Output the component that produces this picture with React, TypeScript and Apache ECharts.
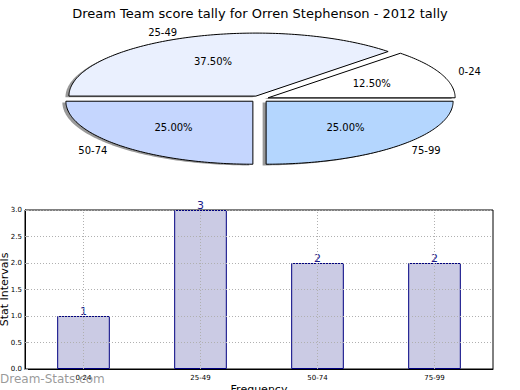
import React, { useEffect, useRef } from "react";
import * as echarts from "echarts";

const titleText = "Dream Team score tally for Orren Stephenson - 2012 tally";
const categories = ["0-24", "25-49", "50-74", "75-99"];
const counts = [1, 3, 2, 2];
const pieColors = ["#ffffff", "#eaf0fe", "#c5d6fe", "#b4d6fe"];
const yTicks = [0, 0.5, 1, 1.5, 2, 2.5, 3];

const FONT = "DejaVu Sans";

// pie layout (ellipse)
const PCX = 259.5;
const PCY = 99;
const PRX = 187;
const PRY = 63;
const EXPLODE = 0.05;

function sliceGeom(i: number) {
  const total = counts.reduce((a, b) => a + b, 0);
  let before = 0;
  for (let k = 0; k < i; k++) before += counts[k];
  const a0 = (before / total) * 360;
  const a1 = ((before + counts[i]) / total) * 360;
  const mid = ((a0 + a1) / 2) * Math.PI / 180;
  const ex = EXPLODE * PRX * Math.cos(mid);
  const ey = -EXPLODE * PRY * Math.sin(mid);
  const pts: number[][] = [[PCX + ex, PCY + ey]];
  const steps = Math.max(8, Math.ceil(a1 - a0));
  for (let s = 0; s <= steps; s++) {
    const a = (a0 + ((a1 - a0) * s) / steps) * Math.PI / 180;
    pts.push([PCX + ex + PRX * Math.cos(a), PCY + ey - PRY * Math.sin(a)]);
  }
  return { pts, mid, ex, ey, pct: (counts[i] / total) * 100 };
}

export default function App() {
  const ref = useRef<HTMLDivElement>(null);
  useEffect(() => {
    if (!ref.current) return;
    const chart = echarts.init(ref.current, undefined, { renderer: "svg" });
    const option: any = {
      animation: false,
      backgroundColor: "#ffffff",
      textStyle: { fontFamily: FONT },
      title: {
        text: titleText,
        left: "center",
        top: 2,
        textStyle: { fontFamily: FONT, fontSize: 13, fontWeight: "normal", color: "#000" },
      },
      grid: {
        left: 25,
        right: 27,
        top: 210,
        bottom: 21,
        containLabel: false,
        outerBoundsMode: "none",
        show: true,
        borderColor: "#000",
        borderWidth: 1,
        backgroundColor: "transparent",
      },
      xAxis: {
        type: "category",
        data: categories,
        z: 4,
        axisLine: { lineStyle: { color: "#000", width: 1 } },
        axisTick: { show: false },
        axisLabel: { fontSize: 7, color: "#000", margin: 5, fontFamily: FONT },
        splitLine: { show: false },
        name: "Frequency",
        nameLocation: "middle",
        nameGap: 15,
        nameMoveOverlap: false,
        nameTextStyle: { fontSize: 11, color: "#000", fontFamily: FONT },
      },
      yAxis: {
        type: "value",
        min: 0,
        max: 3,
        interval: 0.5,
        z: 4,
        axisLine: { show: true, lineStyle: { color: "#000", width: 1 } },
        axisTick: { show: true, inside: true, length: 3, lineStyle: { color: "#aaa" } },
        axisLabel: {
          fontSize: 7,
          color: "#000",
          margin: 3,
          fontFamily: FONT,
          formatter: (v: number) => (yTicks.indexOf(v) >= 0 ? v.toFixed(1) : ""),
        },
        splitLine: { show: true, lineStyle: { type: [1, 2], color: "#b0b0b0", width: 1 } },
        name: "Stat Intervals",
        nameLocation: "middle",
        nameGap: 15,
        nameMoveOverlap: false,
        nameTextStyle: { fontSize: 11, color: "#000", fontFamily: FONT },
      },
      graphic: [
        {
          type: "text",
          left: 0,
          top: 373,
          z: 100,
          style: {
            text: "Dream-Stats.com",
            fontSize: 12,
            fontFamily: FONT,
            fill: "rgba(120,120,120,0.75)",
          },
        },
      ],
      series: [
        {
          type: "bar",
          data: counts,
          barWidth: "45%",
          z: 2,
          itemStyle: { color: "#cbcbe4", borderColor: "#000080", borderWidth: 1 },
          label: {
            show: true,
            position: "top",
            distance: -1,
            color: "#1a1a8c",
            fontSize: 11,
            fontFamily: FONT,
          },
          markLine: {
            silent: true,
            symbol: ["none", "none"],
            label: { show: false },
            lineStyle: { type: [1, 2], color: "#b0b0b0", width: 1 },
            emphasis: { disabled: true },
            data: categories.map((c) => ({ xAxis: c })),
          },
        },
        {
          type: "custom",
          coordinateSystem: "none",
          z: 1,
          silent: true,
          data: counts,
          renderItem: (params: any) => {
            const g = sliceGeom(params.dataIndex);
            const pts = g.pts.map((p) => [p[0] - 3.5, p[1] + 1.2]);
            return {
              type: "polygon",
              shape: { points: pts },
              style: { fill: "#999999", stroke: "none" },
            };
          },
        },
        {
          type: "custom",
          coordinateSystem: "none",
          z: 3,
          silent: true,
          data: counts,
          renderItem: (params: any) => {
            const i = params.dataIndex;
            const g = sliceGeom(i);
            const cosm = Math.cos(g.mid);
            const sinm = Math.sin(g.mid);
            const bx = PCX + g.ex;
            const by = PCY + g.ey;
            return {
              type: "group",
              children: [
                {
                  type: "polygon",
                  shape: { points: g.pts },
                  style: { fill: pieColors[i], stroke: "#000", lineWidth: 1 },
                },
                {
                  type: "text",
                  x: bx + 0.6 * PRX * cosm,
                  y: by - 0.6 * PRY * sinm,
                  style: {
                    text: g.pct.toFixed(2) + "%",
                    fontSize: 10,
                    fontFamily: FONT,
                    fill: "#000",
                    align: "center",
                    verticalAlign: "middle",
                  },
                },
                {
                  type: "text",
                  x: bx + 1.1 * PRX * cosm,
                  y: by - 1.1 * PRY * sinm,
                  style: {
                    text: categories[i],
                    fontSize: 10,
                    fontFamily: FONT,
                    fill: "#000",
                    align: cosm > 0 ? "left" : "right",
                    verticalAlign: "middle",
                  },
                },
              ],
            };
          },
        },
      ],
    };
    chart.setOption(option);
    return () => chart.dispose();
  }, []);
  return (
    <div
      ref={ref}
      style={{ position: "fixed", left: 0, top: 0, width: 520, height: 390, background: "#fff" }}
    />
  );
}
